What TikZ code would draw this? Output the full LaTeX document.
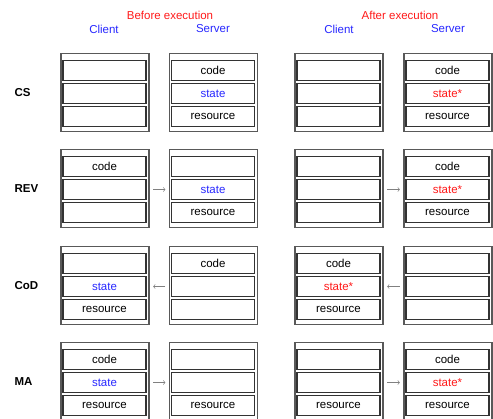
\documentclass[tikz,border=0pt]{standalone}
\usepackage{fontspec}
\setmainfont{Liberation Sans}
\usetikzlibrary{positioning}
\definecolor{headred}{RGB}{255,25,25}
\definecolor{headblue}{RGB}{40,40,255}

\begin{document}
\begin{tikzpicture}[x=1pt,y=-1pt,font=\fontsize{11.5}{13}\selectfont,
	frame/.style={draw=black!65,line width=1.3pt,minimum width=88pt,minimum height=78pt,inner sep=0pt},
	cell/.style={draw=black!80,line width=1.2pt,minimum width=83pt,minimum height=19.5pt,inner sep=0pt},
	flow/.style={->,gray,line width=0.6pt,shorten <=3.5pt,shorten >=3.5pt},
	rowlabel/.style={anchor=west,font=\fontsize{11.5}{13}\selectfont\bfseries}]
	\useasboundingbox (0,0) rectangle (493,418);
	\clip (0,0) rectangle (493,418);
	% headings
	\node[text=headred] (before) at (170,15) {Before execution};
	\node[text=headred] (after) at (400,15) {After execution};
	\node[text=headblue] (bclient) at (104,29) {Client};
	\node[text=headblue] (bserver) at (213,29) {Server};
	\node[text=headblue] (aclient) at (339,29) {Client};
	\node[text=headblue] (aserver) at (448,29) {Server};
	% frames and cells
	\foreach \r/\y in {cs/92.5,rev/188.5,cod/285.5,ma/381.5}{
		\foreach \c/\x in {bc/105,bs/213.5,ac/339,as/448}{
			\node[frame] (\r\c) at (\x,\y) {};
			\node[cell] (\r\c1) at (\x-0.5,\y-22) {};
			\node[cell] (\r\c2) at (\x-0.5,\y+1) {};
			\node[cell] (\r\c3) at (\x-0.5,\y+24) {};
		}
	}
	% row labels
	\node[rowlabel] (cs) at (11,93) {CS};
	\node[rowlabel] (rev) at (11,189) {REV};
	\node[rowlabel] (cod) at (11,286) {CoD};
	\node[rowlabel] (ma) at (11,382) {MA};
	% CS
	\node at (csbs1) {code};
	\node[text=headblue] at (csbs2) {state};
	\node at (csbs3) {resource};
	\node at (csas1) {code};
	\node[text=headred] at (csas2) {state*};
	\node at (csas3) {resource};
	% REV
	\node at (revbc1) {code};
	\node[text=headblue] at (revbs2) {state};
	\node at (revbs3) {resource};
	\node at (revas1) {code};
	\node[text=headred] at (revas2) {state*};
	\node at (revas3) {resource};
	\draw[flow] (revbc.east |- revbc2) -- (revbs.west |- revbs2);
	\draw[flow] (revac.east |- revac2) -- (revas.west |- revas2);
	% CoD
	\node[text=headblue] at (codbc2) {state};
	\node at (codbc3) {resource};
	\node at (codbs1) {code};
	\node at (codac1) {code};
	\node[text=headred] at (codac2) {state*};
	\node at (codac3) {resource};
	\draw[flow] (codbs.west |- codbs2) -- (codbc.east |- codbc2);
	\draw[flow] (codas.west |- codas2) -- (codac.east |- codac2);
	% MA
	\node at (mabc1) {code};
	\node[text=headblue] at (mabc2) {state};
	\node at (mabc3) {resource};
	\node at (mabs3) {resource};
	\node at (maac3) {resource};
	\node at (maas1) {code};
	\node[text=headred] at (maas2) {state*};
	\node at (maas3) {resource};
	\draw[flow] (mabc.east |- mabc2) -- (mabs.west |- mabs2);
	\draw[flow] (maac.east |- maac2) -- (maas.west |- maas2);
\end{tikzpicture}
\end{document}
